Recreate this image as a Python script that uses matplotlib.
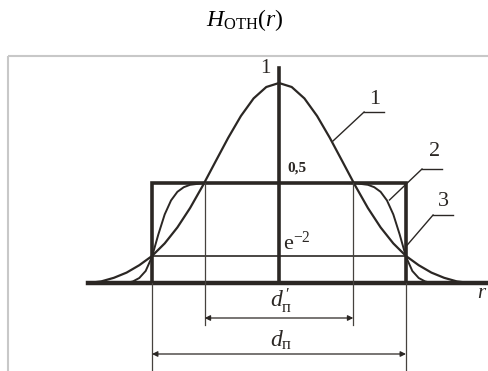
import numpy as np
import matplotlib.pyplot as plt

plt.rcParams['mathtext.fontset'] = 'custom'
plt.rcParams['mathtext.rm'] = 'Liberation Serif'
plt.rcParams['mathtext.it'] = 'Liberation Serif:italic'
plt.rcParams['font.family'] = ['Liberation Serif', 'DejaVu Serif']

# radius in units of the beam half-width, intensity relative to peak
r_half = [0.0, 0.1, 0.2, 0.3, 0.4, 0.5, 0.6, 0.7, 0.8, 0.9, 1.0,
          1.1, 1.2, 1.3, 1.4, 1.5]
gauss_half = [1.0, 0.98, 0.923, 0.835, 0.726, 0.607, 0.487, 0.375, 0.278,
              0.198, 0.135, 0.089, 0.052, 0.026, 0.008, 0.0]

# flat-top profile
r2_half = [0.0, 0.5, 0.6, 0.7, 0.75, 0.8, 0.85, 0.9, 0.95, 1.0,
           1.05, 1.1, 1.15, 1.2, 1.3]
flat_half = [0.5, 0.5, 0.499, 0.491, 0.479, 0.456, 0.413, 0.343, 0.243,
             0.131, 0.06, 0.025, 0.008, 0.0, 0.0]

rect_w = 1.0          # ideal top-hat half width
rect_h = 0.5
e2 = 0.135            # e^-2 level
half_max = 0.585      # half-width at 0.5 of the gaussian

ink = '#2b2724'
thin = '#46423e'

fig = plt.figure(figsize=(4.89, 3.71), dpi=100)
ax = fig.add_axes([0, 0, 1, 1])
ax.set_xlim(-279 / 127, 210 / 127)
ax.set_ylim(-88 / 200, 283 / 200)
ax.axis('off')

# page frame
ax.plot([-2.134, 2.0], [1.135, 1.135], color='#c8c8c8', lw=1.5, solid_capstyle='butt')
ax.plot([-2.134, -2.134], [1.135, -1.0], color='#c8c8c8', lw=1.5, solid_capstyle='butt')

def mirror(xs, ys):
    xs = np.asarray(xs)
    ys = np.asarray(ys)
    return np.concatenate([-xs[::-1], xs[1:]]), np.concatenate([ys[::-1], ys[1:]])

gx, gy = mirror(r_half, gauss_half)
fx, fy = mirror(r2_half, flat_half)
ax.plot(gx, gy, color=ink, lw=1.6)
ax.plot(fx, fy, color=ink, lw=1.4)

# top-hat
ax.plot([-rect_w, -rect_w, rect_w, rect_w], [0, rect_h, rect_h, 0],
        color=ink, lw=2.6, solid_joinstyle='miter')

# axes
ax.plot([-1.504, 1.8], [0, 0], color=ink, lw=3.2)
ax.plot([0, 0], [0, 1.075], color=ink, lw=2.6)

# e^-2 level
ax.plot([-rect_w, rect_w], [e2, e2], color=ink, lw=1.2)

# extension lines
for x in (-half_max, half_max):
    ax.plot([x, x], [rect_h, -0.21], color=thin, lw=0.9)
for x in (-rect_w, rect_w):
    ax.plot([x, x], [0, -0.47], color=thin, lw=0.9)

arrow = dict(arrowstyle='<|-|>', color=ink, lw=0.9, mutation_scale=8,
             shrinkA=0, shrinkB=0)
ax.annotate('', xy=(-half_max, -0.175), xytext=(half_max, -0.175), arrowprops=arrow)
ax.annotate('', xy=(-rect_w, -0.355), xytext=(rect_w, -0.355), arrowprops=arrow)

ax.text(0.02, -0.09, r"$d^{\,\prime}_{\mathrm{п}}$", fontsize=17, ha='center', va='center', color=ink)
ax.text(0.02, -0.285, r"$d_{\mathrm{п}}$", fontsize=17, ha='center', va='center', color=ink)

# leaders for curve labels
ax.plot([0.67, 0.827], [0.855, 0.855], color=ink, lw=1.0)
ax.plot([0.67, 0.425], [0.855, 0.71], color=ink, lw=1.0)
ax.text(0.75, 0.92, '1', fontsize=16, ha='center', va='center', color=ink)

ax.plot([1.126, 1.283], [0.57, 0.57], color=ink, lw=1.0)
ax.plot([1.126, 0.87], [0.57, 0.415], color=ink, lw=1.0)
ax.text(1.228, 0.655, '2', fontsize=16, ha='center', va='center', color=ink)

ax.plot([1.213, 1.37], [0.34, 0.34], color=ink, lw=1.0)
ax.plot([1.213, 1.01], [0.34, 0.19], color=ink, lw=1.0)
ax.text(1.291, 0.41, '3', fontsize=16, ha='center', va='center', color=ink)

ax.text(-0.11, 1.075, '1', fontsize=15, ha='center', va='center', color=ink)
ax.text(0.142, 0.575, '0,5', fontsize=11, ha='center', va='center', color=ink,
        fontweight='bold')
ax.text(0.14, 0.2, r'$\mathrm{e}^{-2}$', fontsize=16, ha='center', va='center', color=ink)
ax.text(1.56, -0.05, r'$r$', fontsize=15, ha='left', va='center', color=ink)

fig.text(0.5, 1 - 20 / 371, r'$H_{\mathrm{OTH}}(r)$', fontsize=17, ha='center', va='center',
         color='black')

fig.savefig('out.png', dpi=100)
